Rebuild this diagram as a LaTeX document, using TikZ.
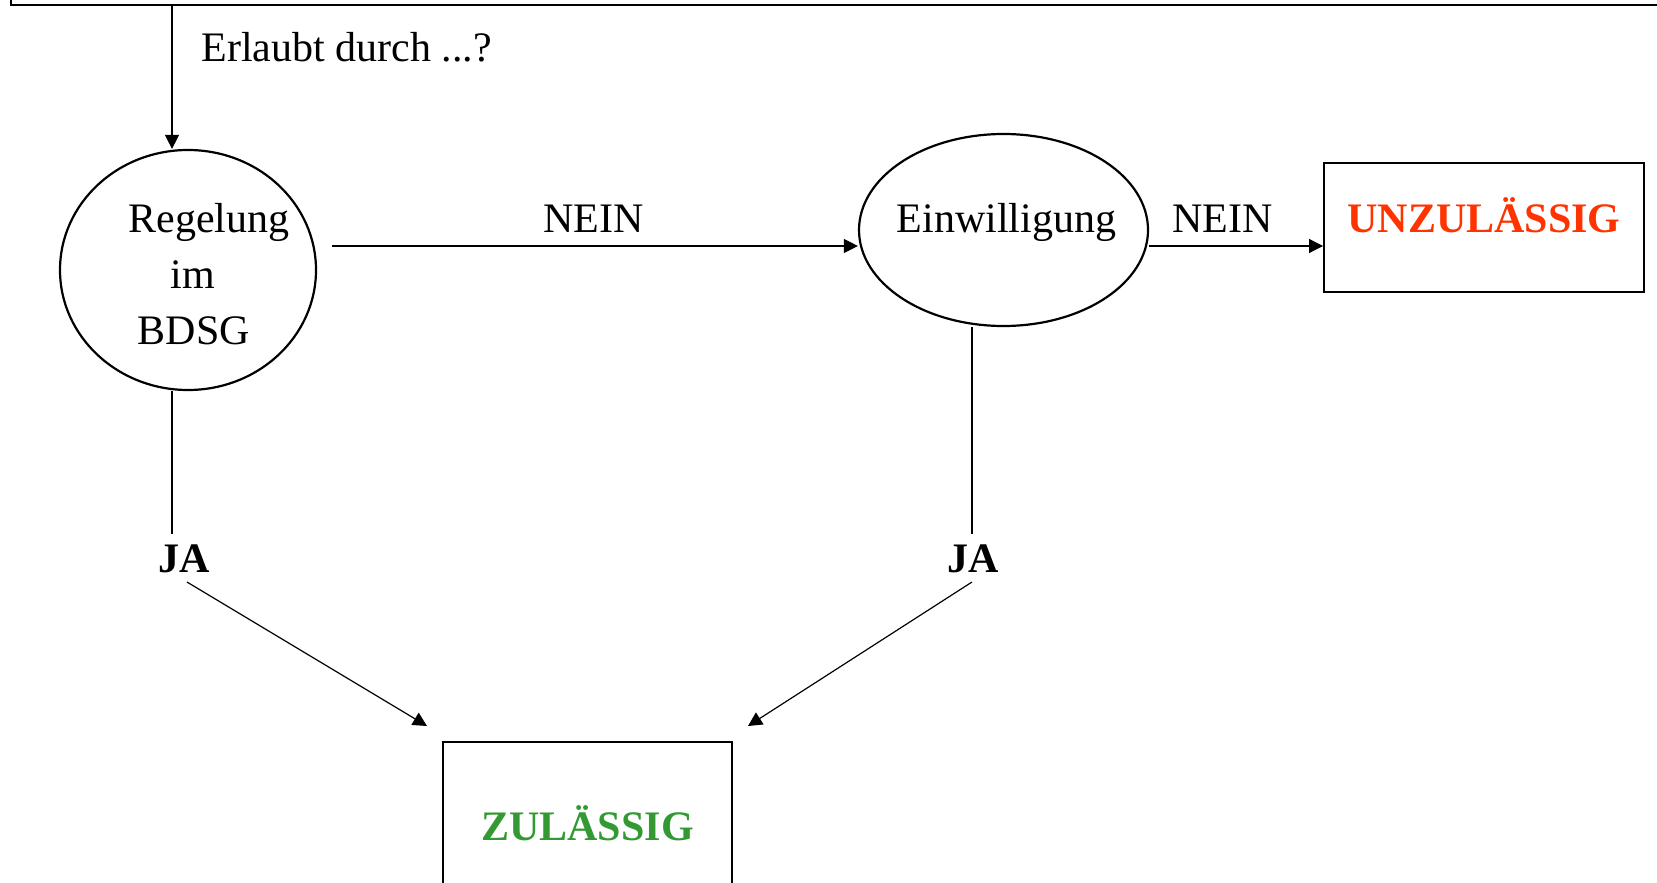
\documentclass[tikz,border=0pt]{standalone}
\usepackage{fontspec}
\setmainfont{Liberation Serif}
\usetikzlibrary{arrows.meta,shapes.geometric}
\definecolor{unzred}{RGB}{255,51,0}
\definecolor{zulgreen}{RGB}{51,153,51}
\begin{document}
\begin{tikzpicture}[x=0.5pt,y=-0.5pt,
  every node/.style={font=\fontsize{21}{28}\selectfont, inner sep=0pt},
  boldtext/.style={font=\fontsize{21}{28}\selectfont\bfseries},
  conn/.style={line width=0.6pt},
  arr/.style={conn,-{Triangle[length=7pt,width=7pt]}},
  ell/.style={draw,ellipse,line width=1.1pt},
  box/.style={draw,rectangle,line width=1pt},
  ]
\useasboundingbox (0,0) rectangle (1657,882);
% nodes
\node[box,minimum width=850pt,minimum height=50pt] (top) at (861,-44.5) {};
\node[ell,minimum width=128pt,minimum height=120pt,
  label={[align=center,yshift=-2pt]center:\hspace*{21pt}Regelung\\\hspace*{4.5pt}im\\\hspace*{6pt}BDSG}] (regel) at (188,270) {};
\node[ell,minimum width=144.5pt,minimum height=96pt,
  label={[text height=14.5pt,text depth=12.5pt,xshift=1.5pt]center:Einwilligung}] (einw) at (1003.5,230) {};
\node[box,boldtext,text=unzred,minimum width=160pt,minimum height=64pt,text height=15pt,text depth=10.5pt] (unz) at (1484,227.5) {UNZULÄSSIG};
\node[box,boldtext,text=zulgreen,minimum width=144.5pt,minimum height=83pt,text height=15pt,text depth=0pt] (zul) at (587.5,825) {ZULÄSSIG};
% labels
\node[anchor=base west] (q) at (201,62) {Erlaubt durch ...?};
\node[anchor=base] (n1) at (593.5,232) {NEIN};
\node[anchor=base] (n2) at (1222.5,232) {NEIN};
\node[anchor=base,boldtext] (ja1) at (184.5,572) {JA};
\node[anchor=base,boldtext] (ja2) at (973.5,572) {JA};
% helper coordinates
\coordinate (xa) at (172,0);
\coordinate (xb) at (972,0);
\coordinate (s1) at (332,246);
\coordinate (d1) at (187,582);
\coordinate (t1) at (427,726);
\coordinate (d2) at (972,582);
\coordinate (t2) at (748,726);
% connectors
\draw[arr] (top.south -| xa) -- (regel.north -| xa);
\draw[arr] (s1) -- (einw.west |- s1);
\draw[arr] (einw.east |- s1) -- (unz.west |- s1);
\draw[conn,shorten >=5pt] (regel.south -| xa) -- (ja1.north -| xa);
\draw[conn,shorten >=5pt] (einw.south -| xb) -- (ja2.north -| xb);
\draw[arr] (d1) -- (t1);
\draw[arr] (d2) -- (t2);
\end{tikzpicture}
\end{document}
